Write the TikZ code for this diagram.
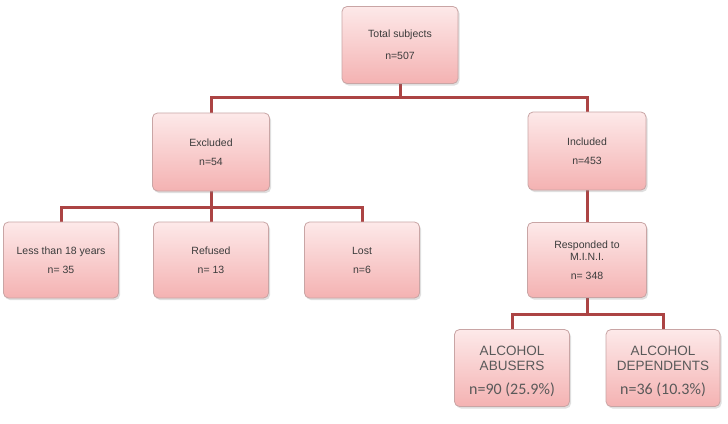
\documentclass[tikz,border=0pt]{standalone}
\usepackage{fontspec}
\setmainfont{Liberation Sans}
\newfontfamily\calfont{Carlito}
\usetikzlibrary{shadows,backgrounds}
\definecolor{linered}{HTML}{AC4444}
\definecolor{boxtop}{HTML}{FDE9E9}
\definecolor{boxbot}{HTML}{F4B2B2}
\definecolor{boxline}{HTML}{C9A5A5}
\definecolor{txt}{HTML}{3C3C3C}
\tikzset{
  fbox/.style={draw=boxline, line width=0.8pt, rounded corners=5pt,
    top color=boxtop, bottom color=boxbot, align=center, text=txt,
    inner sep=2pt,
    drop shadow={opacity=0.25, shadow xshift=1.5pt, shadow yshift=-2pt},
    font=\fontsize{10.5}{19}\selectfont},
  bigbox/.style={fbox, font=\fontsize{13.5}{15}\selectfont, text=txt!85},
  conn/.style={draw=linered, line width=3pt}
}
\begin{document}
\begin{tikzpicture}[x=1pt,y=-1pt]
\useasboundingbox (0,0) rectangle (728,423);
\node[fbox, minimum width=116pt, minimum height=77pt, font=\fontsize{10.5}{22}\selectfont] (total) at (400,45) {Total subjects\\n=507};
\node[fbox, minimum width=117pt, minimum height=78pt] (excl) at (211,152) {Excluded\\n=54};
\node[fbox, minimum width=118pt, minimum height=78pt] (incl) at (587,151) {Included\\n=453};
\node[fbox, minimum width=115pt, minimum height=76pt] (less) at (61,260) {Less than 18 years\\n= 35};
\node[fbox, minimum width=115pt, minimum height=76pt] (refused) at (211,260) {Refused\\n= 13};
\node[fbox, minimum width=115pt, minimum height=76pt] (lost) at (362,260) {Lost\\n=6};
\node[fbox, minimum width=119pt, minimum height=75pt,
  font=\fontsize{10.5}{12}\selectfont] (resp) at (587,260) {Responded to\\M.I.N.I.\\[7pt]n= 348};
\node[bigbox, minimum width=115pt, minimum height=77pt] (abus) at (512,368)
  {\raisebox{-4pt}[\height][\depth]{\begin{tabular}{@{}c@{}}ALCOHOL\\ABUSERS\\[8pt]{\calfont\fontsize{16}{16}\selectfont n=90 (25.9\%)}\end{tabular}}};
\node[bigbox, minimum width=114pt, minimum height=77pt] (dep) at (663,368)
  {\raisebox{-4pt}[\height][\depth]{\begin{tabular}{@{}c@{}}ALCOHOL\\DEPENDENTS\\[8pt]{\calfont\fontsize{16}{16}\selectfont n=36 (10.3\%)}\end{tabular}}};
\coordinate (b1) at (400,97);
\coordinate (b2) at (211,207);
\coordinate (b3) at (587,314);
\begin{scope}[on background layer]
\fill[white] (0,0) rectangle (728,423);
\draw[conn] (total.south) -- (b1);
\draw[conn] (excl.north) |- (b1) -| (incl.north);
\draw[conn] (excl.south) -- (b2);
\draw[conn] (less.north) |- (b2) -| (lost.north);
\draw[conn] (b2) -- (refused.north);
\draw[conn] (incl.south) -- (resp.north);
\draw[conn] (resp.south) -- (b3);
\draw[conn] (abus.north) |- (b3) -| (dep.north);
\end{scope}
\end{tikzpicture}
\end{document}
